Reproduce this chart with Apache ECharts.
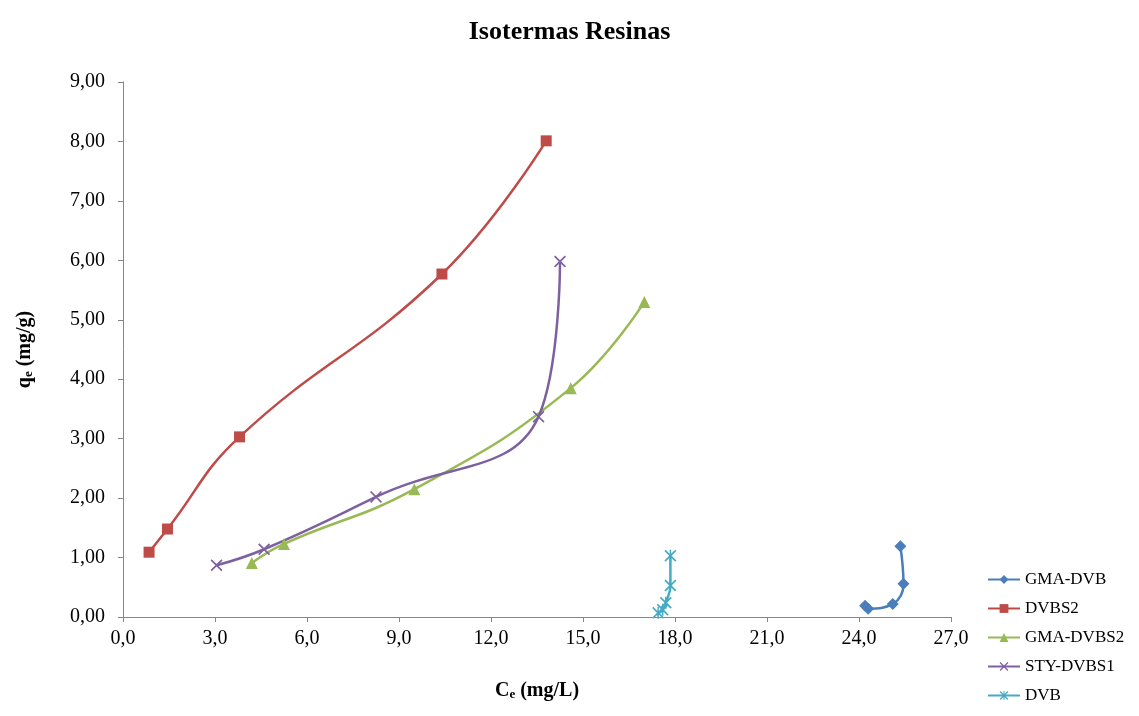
<!DOCTYPE html>
<html lang="es">
<head>
	<meta charset="UTF-8">
	<title>Isotermas Resinas</title>
	<script src="https://cdn.jsdelivr.net/npm/echarts@6/dist/echarts.min.js"></script>
</head>
<body style="margin:0">
	<div id="main" style="width: 1139px;height:716px;"></div>
	<script type="text/javascript">
	// datos: [Ce, qe]
	var gmaDvb = [[24.2, 0.19], [24.3, 0.14], [25.1, 0.22], [25.45, 0.56], [25.35, 1.19]];
	var dvbs2 = [[0.85, 1.09], [1.45, 1.48], [3.8, 3.03], [10.4, 5.77], [13.8, 8.01]];
	var gmaDvbs2 = [[4.2, 0.91], [5.25, 1.23], [9.5, 2.15], [14.6, 3.85], [17.0, 5.30]];
	var styDvbs1 = [[3.05, 0.87], [4.6, 1.14], [8.25, 2.02], [13.55, 3.37], [14.25, 5.98]];
	var dvb = [[17.45, 0.07], [17.6, 0.12], [17.7, 0.24], [17.85, 0.53], [17.85, 1.03]];

	var xTicks = [0, 3, 6, 9, 12, 15, 18, 21, 24, 27];
	var yTicks = [0, 1, 2, 3, 4, 5, 6, 7, 8, 9];

	var serif = '"Liberation Serif", "DejaVu Serif", serif';
	var xMark = 'path://M0,1L1,0L5,4L9,0L10,1L6,5L10,9L9,10L5,6L1,10L0,9L4,5Z';
	var starMark = 'path://M0,1L1,0L5,4L9,0L10,1L6,5L10,9L9,10L5,6L1,10L0,9L4,5Z M4.4,0L5.6,0L5.6,10L4.4,10Z';

	var myChart = echarts.init(document.getElementById('main'));

	function serie(name, data, color, symbol, size) {
		return {
			name: name,
			type: 'line',
			data: data,
			smooth: 0.45,
			symbol: symbol,
			symbolSize: size,
			showAllSymbol: true,
			lineStyle: { color: color, width: 2.5 },
			itemStyle: { color: color },
			emphasis: { disabled: true }
		};
	}

	var option = {
		animation: false,
		title: {
			text: 'Isotermas Resinas',
			left: 'center',
			top: 14,
			textStyle: { fontFamily: serif, fontSize: 26, fontWeight: 'bold', color: '#000' }
		},
		legend: {
			orient: 'vertical',
			left: 982,
			top: 566,
			itemGap: 12,
			itemWidth: 32,
			itemHeight: 11,
			textStyle: { fontFamily: serif, fontSize: 17, color: '#000' },
			data: ['GMA-DVB', 'DVBS2', 'GMA-DVBS2', 'STY-DVBS1', 'DVB']
		},
		grid: { left: 123, right: 188, top: 82, bottom: 99 },
		xAxis: {
			type: 'value',
			min: xTicks[0],
			max: xTicks[xTicks.length - 1],
			interval: 3,
			name: '{b|C}{s|e}{b| (mg/L)}',
			nameLocation: 'middle',
			nameGap: 63,
			nameTextStyle: {
				rich: {
					b: { fontFamily: serif, fontSize: 20, fontWeight: 'bold', color: '#000' },
					s: { fontFamily: serif, fontSize: 13, fontWeight: 'bold', color: '#000', verticalAlign: 'bottom', padding: [8, 0, 0, 0] }
				}
			},
			axisLine: { lineStyle: { color: '#868686', width: 1 } },
			axisTick: { show: true, length: 5, lineStyle: { color: '#868686' } },
			splitLine: { show: false },
			axisLabel: {
				fontFamily: serif, fontSize: 20, color: '#000', margin: 12,
				formatter: function (v) { return v.toFixed(1).replace('.', ','); }
			}
		},
		yAxis: {
			type: 'value',
			min: yTicks[0],
			max: yTicks[yTicks.length - 1],
			interval: 1,
			name: '{b|q}{s|e}{b| (mg/g)}',
			nameLocation: 'middle',
			nameGap: 88,
			nameTextStyle: {
				rich: {
					b: { fontFamily: serif, fontSize: 20, fontWeight: 'bold', color: '#000' },
					s: { fontFamily: serif, fontSize: 13, fontWeight: 'bold', color: '#000', verticalAlign: 'bottom', padding: [8, 0, 0, 0] }
				}
			},
			axisLine: { show: true, lineStyle: { color: '#868686', width: 1 } },
			axisTick: { show: true, length: 5, lineStyle: { color: '#868686' } },
			splitLine: { show: false },
			axisLabel: {
				fontFamily: serif, fontSize: 20, color: '#000', margin: 18,
				formatter: function (v) { return v.toFixed(2).replace('.', ','); }
			}
		},
		series: [
			serie('GMA-DVB', gmaDvb, '#4A7EBB', 'diamond', 12),
			serie('DVBS2', dvbs2, '#BE4B48', 'rect', 11),
			serie('GMA-DVBS2', gmaDvbs2, '#98B954', 'triangle', 12),
			serie('STY-DVBS1', styDvbs1, '#7D60A0', xMark, 12),
			serie('DVB', dvb, '#46AAC5', starMark, 12)
		]
	};

	myChart.setOption(option);
	</script>
</body>
</html>
